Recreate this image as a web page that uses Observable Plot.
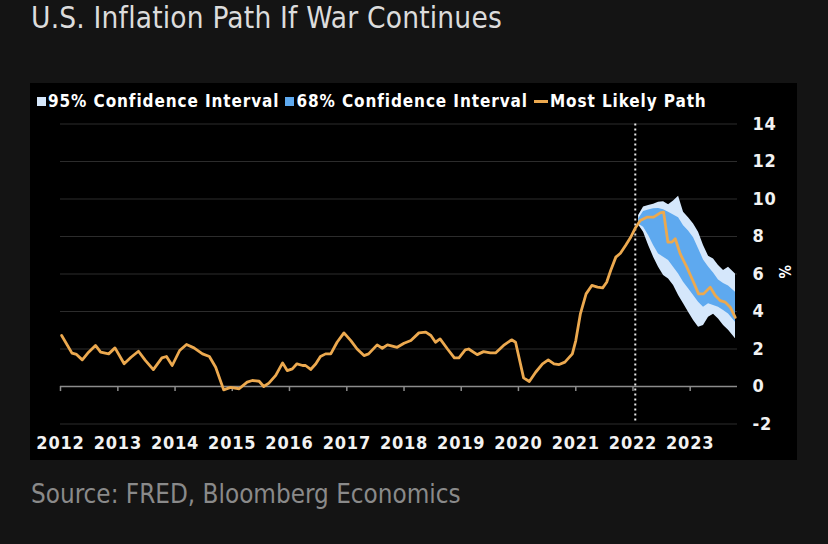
<!DOCTYPE html>
<html>
<head>
<meta charset="utf-8">
<script src="https://cdn.jsdelivr.net/npm/d3@7"></script>
<script src="https://cdn.jsdelivr.net/npm/@observablehq/plot@0.6"></script>
<style>
  html, body { margin: 0; padding: 0; }
  body { width: 828px; height: 544px; background: #141414; position: relative; overflow: hidden;
         font-family: "DejaVu Sans Condensed", "DejaVu Sans", sans-serif; font-stretch: condensed; }
  #title { position: absolute; left: 31px; top: 1px; font-size: 29.5px; color: #dcdcdc; white-space: nowrap; letter-spacing: 0.2px; }
  #panel { position: absolute; left: 30px; top: 83px; width: 767px; height: 377px; background: #000; }
  #legend { position: absolute; left: 7px; top: 8px; display: flex; align-items: center; color: #fff;
            font-weight: bold; font-size: 17px; letter-spacing: 0.9px; white-space: nowrap; }
  #legend .sw { display: inline-block; width: 9px; height: 9px; margin-right: 2px; }
  #legend .ln { display: inline-block; width: 14px; height: 3px; margin-right: 2px; }
  #legend .item { display: flex; align-items: center; margin-right: 6px; }
  #chart { position: absolute; left: 0; top: 30px; }
  #chart svg text { letter-spacing: 0.8px; }
  #unit { position: absolute; left: 763px; top: 182px; color: #fff; font-weight: bold; font-size: 15px; transform: rotate(90deg); transform-origin: left top; }
  #source { position: absolute; left: 31px; top: 479px; font-size: 25.8px; color: #8a8a8a; white-space: nowrap; }
</style>
</head>
<body>
<div id="title">U.S. Inflation Path If War Continues</div>
<div id="panel">
  <div id="legend"></div>
  <div id="chart"></div>
  <div id="unit">%</div>
</div>
<div id="source">Source: FRED, Bloomberg Economics</div>
<script>
// ---- Data (x as decimal years) ----
const histYear = [2012.02,2012.20,2012.28,2012.38,2012.49,2012.61,2012.70,2012.84,2012.95,
  2013.11,2013.23,2013.36,2013.48,2013.62,2013.77,2013.85,2013.95,
  2014.08,2014.20,2014.33,2014.48,2014.60,2014.71,2014.85,2014.97,
  2015.12,2015.26,2015.35,2015.47,2015.55,2015.64,2015.76,2015.88,2015.96,
  2016.05,2016.13,2016.23,2016.28,2016.37,2016.46,2016.54,2016.63,2016.72,2016.83,2016.95,
  2017.07,2017.18,2017.30,2017.38,2017.53,2017.62,2017.71,2017.88,
  2018.00,2018.12,2018.26,2018.38,2018.47,2018.55,2018.63,2018.76,2018.88,2018.96,
  2019.07,2019.13,2019.28,2019.39,2019.51,2019.60,2019.74,2019.88,2019.95,
  2020.09,2020.19,2020.30,2020.42,2020.52,2020.62,2020.71,2020.81,2020.94,
  2021.00,2021.08,2021.18,2021.28,2021.38,2021.47,2021.54,2021.61,2021.70,2021.78,2021.87,2021.96,
  2022.04];
const histValue = [2.72,1.78,1.71,1.42,1.83,2.19,1.83,1.74,2.06,
  1.21,1.56,1.88,1.39,0.90,1.53,1.60,1.12,
  1.92,2.24,2.06,1.74,1.60,1.03,-0.18,-0.05,
  -0.12,0.23,0.32,0.28,0.00,0.18,0.59,1.26,0.85,
  0.94,1.21,1.12,1.12,0.91,1.21,1.60,1.74,1.74,2.36,2.86,
  2.45,2.00,1.65,1.74,2.22,2.04,2.22,2.09,
  2.31,2.45,2.86,2.90,2.72,2.36,2.54,2.00,1.53,1.53,
  1.95,2.00,1.70,1.86,1.79,1.79,2.19,2.49,2.36,
  0.46,0.27,0.76,1.21,1.42,1.21,1.17,1.30,1.74,
  2.45,3.87,4.94,5.39,5.30,5.26,5.56,6.19,6.90,7.11,7.52,7.96,
  8.45];

const pathYear = [2022.128,2022.243,2022.360,2022.477,2022.535,2022.610,2022.680,2022.739,2022.826,2022.942,
  2023.059,2023.146,2023.233,2023.350,2023.438,2023.525,2023.612,2023.700,2023.787];
const pathValue = [8.85,9.03,9.03,9.26,9.30,7.70,7.70,7.88,7.07,6.36,
  5.56,4.94,4.94,5.30,4.85,4.58,4.50,4.23,3.69];

const bandYear = [2022.098,2022.185,2022.273,2022.360,2022.447,2022.535,2022.622,2022.709,2022.797,2022.884,2022.971,
  2023.059,2023.146,2023.233,2023.321,2023.408,2023.495,2023.583,2023.670,2023.792];
const up95 = [9.12,9.58,9.65,9.72,9.83,9.85,9.70,9.90,10.15,9.30,9.00,8.67,8.23,7.52,6.95,6.80,6.45,6.19,6.36,6.00];
const up68 = [8.94,9.33,9.42,9.48,9.50,9.43,9.30,9.15,9.00,8.58,8.30,7.93,7.35,6.75,6.37,6.05,5.68,5.50,5.36,5.03];
const lo68 = [8.67,8.50,8.05,7.52,7.07,6.90,6.72,6.36,6.00,5.56,5.21,4.85,4.50,4.23,4.41,4.32,4.23,4.05,3.87,3.43];
const lo95 = [8.62,8.23,7.52,6.90,6.36,5.92,5.74,5.39,4.85,4.41,3.96,3.52,3.16,3.25,3.70,3.85,3.60,3.25,3.00,2.55];

const warStart = 2022.04;
const xStart = 2012.0, xEnd = 2023.827;
const yTicks = [-2, 0, 2, 4, 6, 8, 10, 12, 14];
const xYears = [2012,2013,2014,2015,2016,2017,2018,2019,2020,2021,2022,2023];

const legendItems = [
  {label: "95% Confidence Interval", color: "#d5e7fb", kind: "sw"},
  {label: "68% Confidence Interval", color: "#5ea9ef", kind: "sw"},
  {label: "Most Likely Path", color: "#eca94f", kind: "ln"}
];

// ---- Helpers ----
const toDate = t => { const y = Math.floor(t); const a = Date.UTC(y,0,1), b = Date.UTC(y+1,0,1); return new Date(a + (t - y) * (b - a)); };

const line = histYear.map((t, i) => ({date: toDate(t), v: histValue[i]}))
  .concat(pathYear.map((t, i) => ({date: toDate(t), v: pathValue[i]})));
const bands = bandYear.map((t, i) => ({date: toDate(t), lo95: lo95[i], lo68: lo68[i], up68: up68[i], up95: up95[i]}));
const yearDates = xYears.map(y => toDate(y));

// ---- Legend ----
const lg = document.getElementById("legend");
for (const it of legendItems) {
  const d = document.createElement("span"); d.className = "item";
  const s = document.createElement("span"); s.className = it.kind; s.style.background = it.color;
  d.appendChild(s); d.appendChild(document.createTextNode(it.label)); lg.appendChild(d);
}

// ---- Chart ----
const font = '"DejaVu Sans Condensed", "DejaVu Sans", sans-serif';
const chart = Plot.plot({
  width: 767, height: 347,
  marginTop: 10.5, marginBottom: 36.5, marginLeft: 30, marginRight: 60,
  style: {background: "transparent", color: "#fff", fontFamily: font, fontSize: "18px", fontWeight: "bold"},
  x: {type: "utc", domain: [toDate(xStart), toDate(xEnd)]},
  y: {domain: [-2, 14]},
  marks: [
    Plot.gridY(yTicks.filter(d => d !== 0), {stroke: "#2c2c2c", strokeOpacity: 1, strokeWidth: 1}),
    Plot.axisY(yTicks, {anchor: "right", tickSize: 0, dx: 6, label: null, textAnchor: "start", tickFormat: d => String(d), fill: "#f2f2f2", fontWeight: "bold", fontSize: 18}),
    Plot.axisX(yearDates, {anchor: "bottom", tickSize: 0, tickPadding: 12, label: null, tickFormat: d3.utcFormat("%Y"), fill: "#f2f2f2", fontWeight: "bold", fontSize: 18}),
    Plot.ruleY([0], {stroke: "#8c8c8c", strokeWidth: 1.5}),
    Plot.ruleX(yearDates, {x: d => d, y1: 0, y2: -0.27, stroke: "#8c8c8c", strokeWidth: 1.5}),
    Plot.areaY(bands, {x: "date", y1: "lo95", y2: "up95", fill: legendItems[0].color}),
    Plot.areaY(bands, {x: "date", y1: "lo68", y2: "up68", fill: legendItems[1].color}),
    Plot.ruleX([toDate(warStart)], {stroke: "#e6e6e6", strokeWidth: 2, strokeDasharray: "2,3"}),
    Plot.line(line, {x: "date", y: "v", stroke: legendItems[2].color, strokeWidth: 2.8, strokeLinejoin: "round"})
  ]
});
document.getElementById("chart").appendChild(chart);
</script>
</body>
</html>
